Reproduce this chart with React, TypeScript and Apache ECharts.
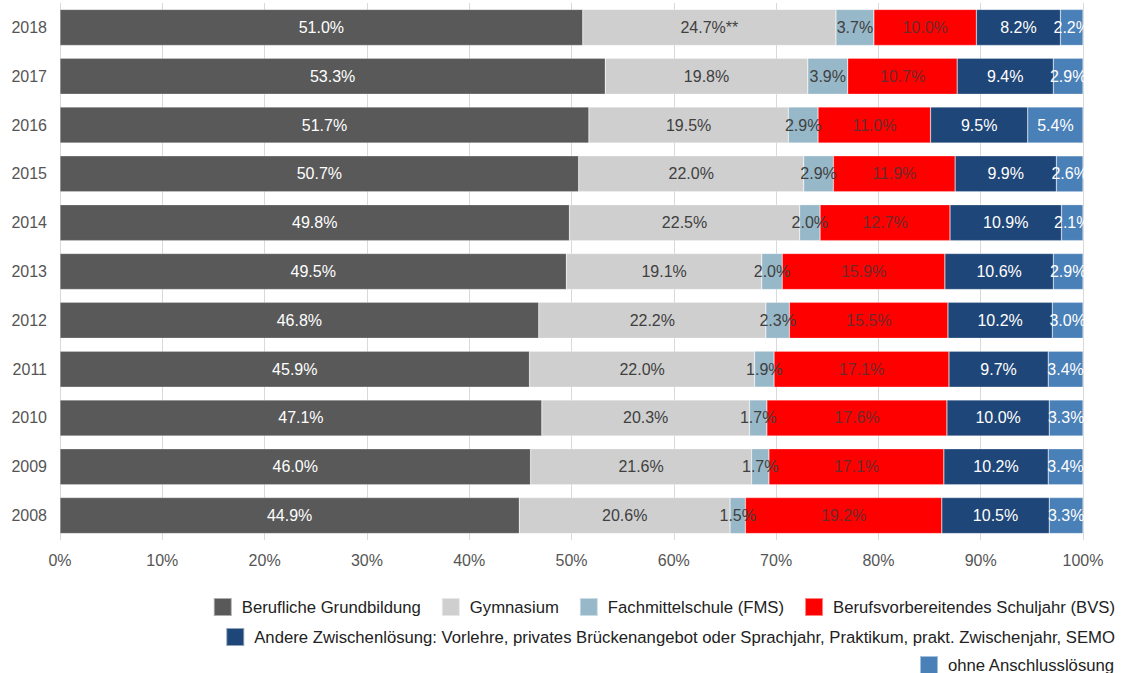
import React, { useEffect, useRef } from "react";
import * as echarts from "echarts";

const years = ["2008", "2009", "2010", "2011", "2012", "2013", "2014", "2015", "2016", "2017", "2018"];
const seriesNames = [
  "Berufliche Grundbildung",
  "Gymnasium",
  "Fachmittelschule (FMS)",
  "Berufsvorbereitendes Schuljahr (BVS)",
  "Andere Zwischenlösung: Vorlehre, privates Brückenangebot oder Sprachjahr, Praktikum, prakt. Zwischenjahr, SEMO",
  "ohne Anschlusslösung",
];
const beruflich = [44.9, 46.0, 47.1, 45.9, 46.8, 49.5, 49.8, 50.7, 51.7, 53.3, 51.0];
const gymnasium = [20.6, 21.6, 20.3, 22.0, 22.2, 19.1, 22.5, 22.0, 19.5, 19.8, 24.7];
const fms = [1.5, 1.7, 1.7, 1.9, 2.3, 2.0, 2.0, 2.9, 2.9, 3.9, 3.7];
const bvs = [19.2, 17.1, 17.6, 17.1, 15.5, 15.9, 12.7, 11.9, 11.0, 10.7, 10.0];
const andere = [10.5, 10.2, 10.0, 9.7, 10.2, 10.6, 10.9, 9.9, 9.5, 9.4, 8.2];
const ohne = [3.3, 3.4, 3.3, 3.4, 3.0, 2.9, 2.1, 2.6, 5.4, 2.9, 2.2];
const xTicks = ["0%", "10%", "20%", "30%", "40%", "50%", "60%", "70%", "80%", "90%", "100%"];

const colors = ["#595959", "#cfcfcf", "#97b8c8", "#ff0000", "#1f4678", "#4a80b8"];
const labelColors = ["#ffffff", "#404040", "#404040", "#6e2a2a", "#ffffff", "#ffffff"];
const FONT = "'Liberation Sans', Arial, Helvetica, sans-serif";

export default function App() {
  const ref = useRef<HTMLDivElement>(null);
  useEffect(() => {
    if (!ref.current) return;
    const chart = echarts.init(ref.current, undefined, { renderer: "svg" });
    const all = [beruflich, gymnasium, fms, bvs, andere, ohne];
    // 100% stacked: each row is scaled to its own total
    const totals = years.map((_, j) => all.reduce((s, arr) => s + arr[j], 0));
    const series = all.map((arr, i) => ({
      name: seriesNames[i],
      type: "bar",
      stack: "total",
      barWidth: 36,
      data: arr.map((v, j) => (v / totals[j]) * 100),
      itemStyle: { color: colors[i], borderColor: "rgba(255,255,255,0.5)", borderWidth: 0.5 },
      label: {
        show: true,
        position: "inside",
        color: labelColors[i],
        fontSize: 16,
        fontFamily: FONT,
        formatter: (p: any) =>
          arr[p.dataIndex].toFixed(1) + "%" + (i === 1 && p.dataIndex === years.length - 1 ? "**" : ""),
      },
    }));
    const legendBase = {
      right: 18,
      padding: 0,
      itemWidth: 18,
      itemHeight: 18,
      itemGap: 20,
      icon: "rect",
      textStyle: { fontSize: 16.7, color: "#222", fontFamily: FONT, padding: [0, 0, 0, 5] },
    };
    chart.setOption({
      animation: false,
      grid: { left: 60, right: 50, top: 3, bottom: 133 },
      xAxis: {
        type: "value",
        min: 0,
        max: 100,
        interval: 10,
        axisLine: { show: false },
        axisTick: { show: false },
        splitLine: { show: true, lineStyle: { color: "#d9d9d9", width: 1 } },
        axisLabel: {
          color: "#555",
          fontSize: 16,
          fontFamily: FONT,
          margin: 12,
          formatter: (v: number) => xTicks[Math.round(v / 10)],
        },
      },
      yAxis: {
        type: "category",
        data: years,
        axisLine: { show: false },
        axisTick: { show: false },
        axisLabel: { color: "#555", fontSize: 16, fontFamily: FONT, margin: 13 },
      },
      legend: [
        { ...legendBase, top: 597, data: seriesNames.slice(0, 4) },
        { ...legendBase, top: 627, data: [seriesNames[4]] },
        { ...legendBase, top: 655, data: [seriesNames[5]] },
      ],
      series,
    });
    return () => chart.dispose();
  }, []);
  return <div ref={ref} style={{ width: 1133, height: 673, position: "absolute", left: 0, top: 0 }} />;
}
